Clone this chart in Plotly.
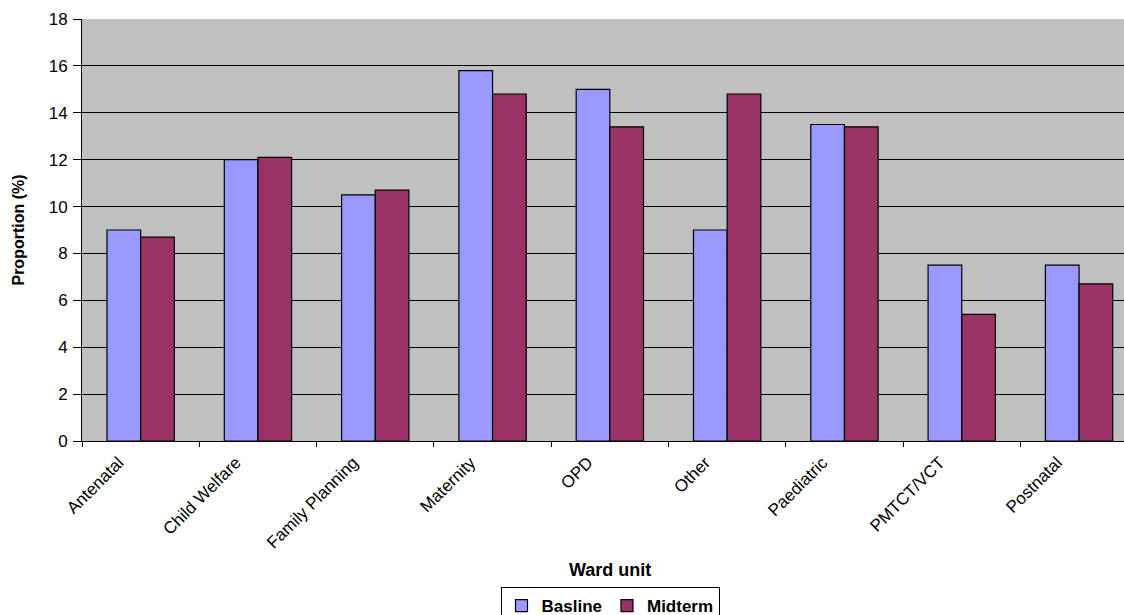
import plotly.graph_objects as go

# Ward units and proportions (%) per survey round
wards = ["Antenatal", "Child Welfare", "Family Planning", "Maternity", "OPD",
         "Other", "Paediatric", "PMTCT/VCT", "Postnatal"]
baseline = [9.0, 12.0, 10.5, 15.8, 15.0, 9.0, 13.5, 7.5, 7.5]
midterm = [8.7, 12.1, 10.7, 14.8, 13.4, 14.8, 13.4, 5.4, 6.7]
y_ticks = [0, 2, 4, 6, 8, 10, 12, 14, 16, 18]

W, H = 1124, 615
ML, MT, MB = 82, 19, 174

font = "Arial, Liberation Sans, sans-serif"

fig = go.Figure()
fig.add_trace(go.Bar(name="Basline", x=wards, y=baseline,
                     marker=dict(color="#9999FF", line=dict(color="#000000", width=1.2))))
fig.add_trace(go.Bar(name="Midterm", x=wards, y=midterm,
                     marker=dict(color="#993366", line=dict(color="#000000", width=1.2))))

# plot area continues past the right page edge; last slot is partly cut off
cat_px = 117.3
plot_w = W - ML
plot_h = H - MT - MB
x_hi = -0.5 + plot_w / cat_px

fig.update_layout(
    width=W, height=H,
    margin=dict(l=ML, r=0, t=MT, b=MB, pad=0, autoexpand=False),
    paper_bgcolor="white",
    plot_bgcolor="#C0C0C0",
    barmode="group",
    bargap=0.426,
    bargroupgap=0,
    font=dict(family=font, color="#000000"),
    showlegend=True,
    legend=dict(orientation="h", x=(610 - ML) / plot_w, xanchor="center",
                y=-(587 - (H - MB)) / plot_h, yanchor="top",
                bordercolor="#000000", borderwidth=1, bgcolor="white",
                font=dict(size=17, family=font, weight="bold"),
                itemwidth=30, tracegroupgap=0),
    xaxis=dict(range=[-0.5, x_hi], showgrid=False, showline=True,
               linecolor="#000000", linewidth=1, ticks="outside",
               tickson="boundaries", ticklen=5, tickcolor="#000000",
               tickangle=-45, tickfont=dict(size=17, family=font),
               ticklabelstandoff=4, ticklabelshift=-22, automargin=False,
               mirror=False, zeroline=False),
    yaxis=dict(range=[0, 18], tickvals=y_ticks, showgrid=True,
               gridcolor="#000000", gridwidth=1, showline=True,
               linecolor="#000000", linewidth=1, ticks="outside",
               ticklen=8, tickcolor="#000000", tickfont=dict(size=17, family=font),
               ticklabelstandoff=2, automargin=False,
               title=dict(text="Proportion (%)", standoff=20,
                          font=dict(size=16, family=font, weight="bold")),
               zeroline=False),
    annotations=[dict(text="Ward unit", xref="paper", yref="paper",
                      x=(610 - ML) / plot_w, y=-(570 - (H - MB)) / plot_h,
                      xanchor="center", yanchor="middle", showarrow=False,
                      font=dict(size=18, family=font, weight="bold"))],
)

fig.write_html("out.html")
